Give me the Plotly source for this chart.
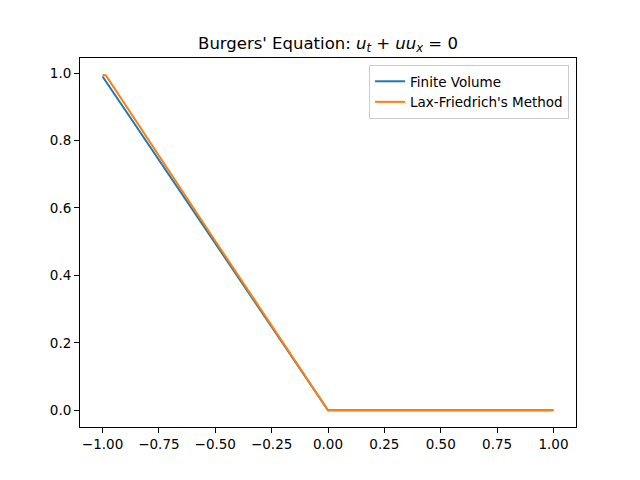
import plotly.graph_objects as go

# Finite Volume solution
fv_x = [-1.0, -0.5, 0.0, 0.5, 1.0]
fv_u = [0.99, 0.495, 0.0, 0.0, 0.0]

# Lax-Friedrich's Method solution
lf_x = [-1.0, -0.985, -0.5, -0.01, 0.0, 0.5, 1.0]
lf_u = [0.995, 0.993, 0.502, 0.008, 0.0, 0.0, 0.0]

x_ticks = [-1.0, -0.75, -0.5, -0.25, 0.0, 0.25, 0.5, 0.75, 1.0]
y_ticks = [0.0, 0.2, 0.4, 0.6, 0.8, 1.0]

font = "DejaVu Sans"

fig = go.Figure()
fig.add_trace(go.Scatter(x=fv_x, y=fv_u, mode="lines", name="Finite Volume",
                         line=dict(color="#1f77b4", width=2)))
fig.add_trace(go.Scatter(x=lf_x, y=lf_u, mode="lines", name="Lax-Friedrich's Method",
                         line=dict(color="#ff7f0e", width=2)))

axis_common = dict(showline=True, linecolor="black", linewidth=1, mirror=True,
                   ticks="outside", ticklen=5, tickwidth=1, tickcolor="black",
                   showgrid=False, zeroline=False, automargin=False,
                   tickfont=dict(family=font, size=13.5, color="black"))

fig.update_layout(
    width=640, height=480,
    margin=dict(l=80, r=64, t=58, b=53),
    paper_bgcolor="white", plot_bgcolor="white",
    font=dict(family=font, color="black"),
    title=dict(text="Burgers' Equation: <i>u</i><sub><i>t</i></sub> + <i>uu</i><sub><i>x</i></sub> = 0",
               x=0.5, xref="paper", xanchor="center", y=1 - 43 / 480, yanchor="middle",
               font=dict(family=font, size=16.5, color="black")),
    xaxis=dict(range=[-1.1, 1.1], tickvals=x_ticks, tickformat=".2f", **axis_common),
    yaxis=dict(range=[-0.04975, 1.04475], tickvals=y_ticks, tickformat=".1f", **axis_common),
    legend=dict(x=0.986, y=0.981, xanchor="right", yanchor="top",
                bgcolor="rgba(255,255,255,0.8)", bordercolor="#cccccc", borderwidth=1,
                font=dict(family=font, size=13.5, color="black"),
                itemwidth=30, tracegroupgap=0),
    showlegend=True,
)

fig.write_html("out.html", config={"displayModeBar": False},
               post_script="document.body.style.margin='0';document.body.style.padding='0';")
